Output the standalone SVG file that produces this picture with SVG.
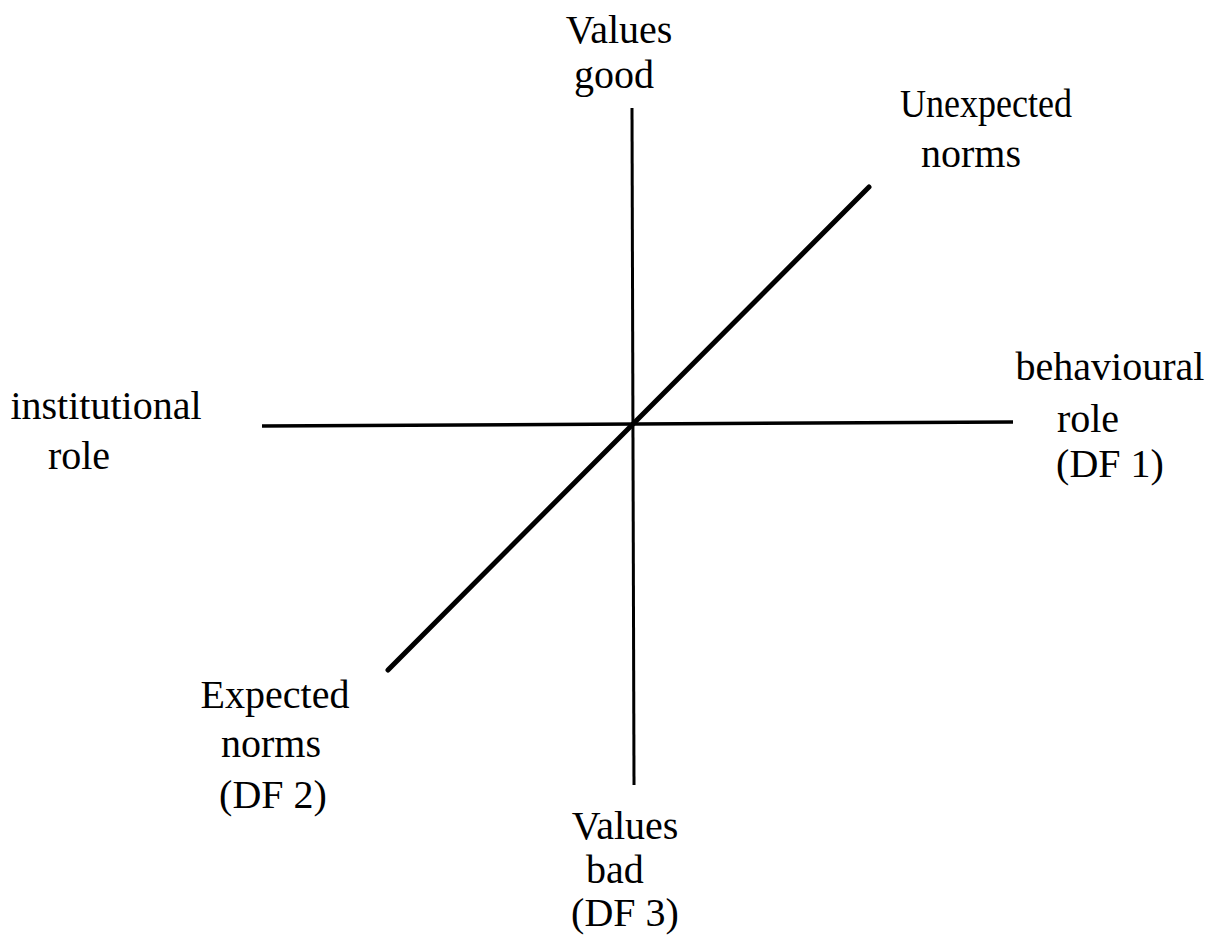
<svg xmlns="http://www.w3.org/2000/svg" width="1218" height="935" viewBox="0 0 1218 935">
<style>
text{font-family:"Liberation Serif","Times New Roman",serif;font-size:40px;fill:#000;text-anchor:middle}
.ax{stroke:#000;stroke-width:3;fill:none}
.hx{stroke:#000;stroke-width:3.5;fill:none}
.dg{stroke:#000;stroke-width:5;fill:none;stroke-linecap:round}
</style>
<rect width="1218" height="935" fill="#fff"/>
<g id="connectors">
<line class="ax" x1="632" y1="108" x2="634" y2="785"/>
<line class="hx" x1="262" y1="426" x2="1013" y2="422"/>
<line class="dg" x1="388" y1="670" x2="869" y2="187"/>
</g>
<g id="values-good"><text x="619" y="43">Values</text><text x="614" y="88">good</text></g>
<g id="unexpected-norms"><text x="986" y="117" textLength="172" lengthAdjust="spacingAndGlyphs">Unexpected</text><text x="971" y="167">norms</text></g>
<g id="institutional-role"><text x="106" y="419">institutional</text><text x="79" y="469">role</text></g>
<g id="behavioural-role"><text x="1110" y="380">behavioural</text><text x="1088" y="432">role</text><text x="1110" y="477">(DF 1)</text></g>
<g id="expected-norms"><text x="275" y="708">Expected</text><text x="271" y="757">norms</text><text x="273" y="808">(DF 2)</text></g>
<g id="values-bad"><text x="625" y="839">Values</text><text x="615" y="883">bad</text><text x="625" y="926">(DF 3)</text></g>
</svg>
